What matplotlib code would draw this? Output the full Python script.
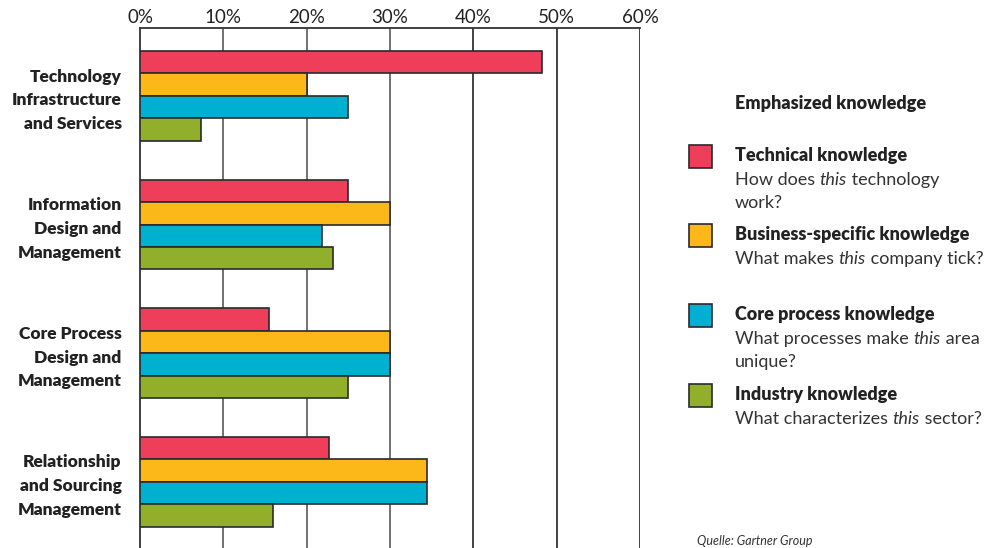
import matplotlib
matplotlib.use("Agg")
import matplotlib.pyplot as plt
from matplotlib.patches import Rectangle
import numpy as np

categories = ["Technology\nInfrastructure\nand Services",
              "Information\nDesign and\nManagement",
              "Core Process\nDesign and\nManagement",
              "Relationship\nand Sourcing\nManagement"]
series_names = ["Technical knowledge", "Business-specific knowledge",
                "Core process knowledge", "Industry knowledge"]
technical = [48.2, 25.0, 15.5, 22.7]
business = [20.0, 30.0, 30.0, 34.5]
core_process = [25.0, 21.8, 30.0, 34.5]
industry = [7.3, 23.2, 25.0, 15.9]
tick_values = [0, 10, 20, 30, 40, 50, 60]
tick_labels = ["0%", "10%", "20%", "30%", "40%", "50%", "60%"]
legend_desc = [[("How does ", False), ("this", True), (" technology", False), ("\n", False), ("work?", False)],
               [("What makes ", False), ("this", True), (" company tick?", False)],
               [("What processes make ", False), ("this", True), (" area", False), ("\n", False), ("unique?", False)],
               [("What characterizes ", False), ("this", True), (" sector?", False)]]

colors = ["#EE3E5A", "#FBB818", "#00B0D0", "#92AF2B"]
edge = "#2a2a2a"
FONT = "Lato"
BOLD = "heavy"

W, H = 987, 548
fig = plt.figure(figsize=(W / 100, H / 100), dpi=100)
ax = fig.add_axes([140 / W, 0, 500 / W, 520 / H])

series = [technical, business, core_process, industry]
bh = 0.175
y = np.arange(len(categories))
for k, vals in enumerate(series):
    ax.barh(y - 1.5 * bh + k * bh, vals, height=bh, color=colors[k],
            edgecolor=edge, linewidth=1.2, zorder=3)

ax.set_xlim(0, 60)
ax.set_ylim(3.517, -0.529)
ax.set_xticks(tick_values)
ax.set_xticklabels(tick_labels, fontsize=13.5, family=FONT, color="#222")
ax.tick_params(axis="x", top=True, labeltop=True, bottom=False, labelbottom=False,
               length=0, pad=1.5)
ax.set_yticks([])
for v in tick_values[1:]:
    ax.axvline(v, color="#666" if v <= 30 else "#333", linewidth=1.3, zorder=1)
for s in ["right", "bottom"]:
    ax.spines[s].set_visible(False)
ax.spines["left"].set_color("#333")
ax.spines["top"].set_color("#333")
ax.spines["left"].set_linewidth(1.3)
ax.spines["top"].set_linewidth(1.3)

for i, c in enumerate(categories):
    ax.text(-2.2, i + 0.035, c, ha="right", va="center", fontsize=12.5,
            fontweight=BOLD, family=FONT, color="#222", linespacing=1.6)

# Legend
renderer = fig.canvas.get_renderer()


def px(x, yy):
    return x / W, 1 - yy / H


fig.text(*px(735, 104), "Emphasized knowledge", fontsize=13, fontweight=BOLD,
         family=FONT, color="#222", va="center", ha="left")

sq_tops = [145, 224, 304, 384]
fs = 13


def width_of(s, italic):
    t = fig.text(0, 0, s.replace(" ", "\u00a0"), fontsize=fs, family=FONT,
                 style="italic" if italic else "normal")
    w = t.get_window_extent(renderer).width
    t.remove()
    return w


for k in range(4):
    top = sq_tops[k]
    fig.patches.append(Rectangle((689 / W, 1 - (top + 23) / H), 23 / W, 23 / H,
                                 transform=fig.transFigure, facecolor=colors[k],
                                 edgecolor=edge, linewidth=1.2, figure=fig))
    fig.text(*px(735, top + 16), series_names[k], fontsize=13, fontweight=BOLD,
             family=FONT, color="#222", va="baseline", ha="left")
    xcur = 735
    base = top + 40
    for txt, it in legend_desc[k]:
        if txt == "\n":
            xcur = 735
            base += 23.5
            continue
        fig.text(*px(xcur, base), txt.replace(" ", "\u00a0"), fontsize=fs, family=FONT,
                 style="italic" if it else "normal", color="#333",
                 va="baseline", ha="left")
        xcur += width_of(txt, it)

fig.text(*px(697, 541), "Quelle: Gartner Group", fontsize=9, style="italic",
         family=FONT, color="#333", va="center", ha="left")

fig.savefig("out.png", dpi=100, facecolor="white")
